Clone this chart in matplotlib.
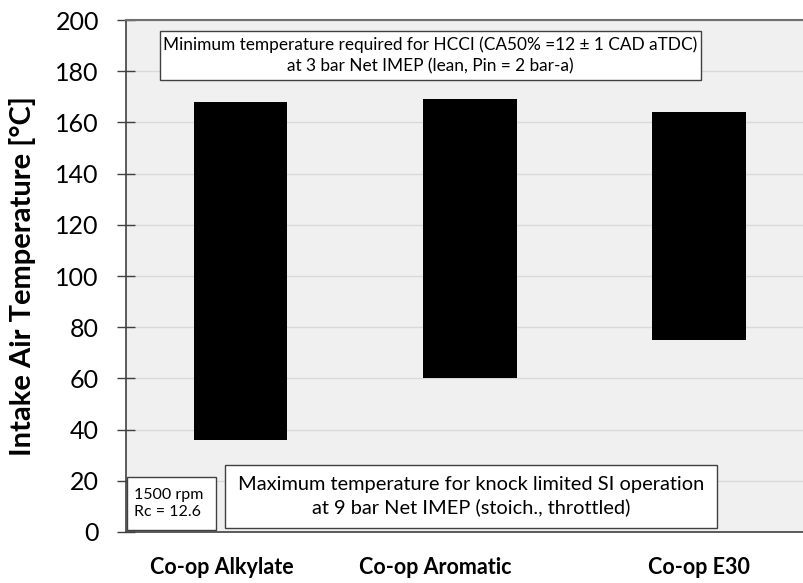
import numpy as np
import matplotlib
matplotlib.use('Agg')
import matplotlib.pyplot as plt
from matplotlib.patches import Rectangle

# Intake temperature window per fuel: lower bound = knock limited SI, upper = HCCI minimum
fuels = ['Co-op Alkylate', 'Co-op Aromatic', 'Co-op E30']
si_max_temp = [36, 60, 75]
hcci_min_temp = [168, 169, 164]
label_pos = [-0.08, 0.85, 2.0]
y_ticks = [0, 20, 40, 60, 80, 100, 120, 140, 160, 180, 200]

plt.rcParams['font.family'] = ['Lato', 'DejaVu Sans']

fig = plt.figure(figsize=(8.04, 5.83), dpi=100)
ax = fig.add_axes([0.1567, 0.0875, 0.8433, 0.878])
ax.set_facecolor('#f0f0f0')

x = np.arange(len(fuels))
lo = np.array(si_max_temp)
hi = np.array(hcci_min_temp)
ax.bar(x, hi - lo, bottom=lo, width=0.41, color='black', zorder=3)

ax.set_xlim(-0.5, 2.46)
ax.set_ylim(0, 200)
ax.set_yticks(y_ticks)
ax.tick_params(axis='y', direction='inout', length=13, width=1, color='#404040',
               labelsize=18, pad=13)
ax.grid(axis='y', color='#d9d9d9', lw=1, zorder=0)

ax.set_xticks(label_pos)
ax.set_xticklabels(fuels, fontsize=15.5, fontweight='bold')
ax.tick_params(axis='x', length=0, pad=18)

ax.set_ylabel('Intake Air Temperature [°C]', fontsize=21, fontweight='bold', labelpad=14)

for side in ['left', 'bottom']:
    ax.spines[side].set_color('#404040')
    ax.spines[side].set_linewidth(1.2)
ax.spines['top'].set_color('#707070')
ax.spines['top'].set_linewidth(1.5)
ax.spines['right'].set_visible(False)

# annotation boxes
def note(x0, y0, w, h, txt, size, ha='center', tx=None):
    ax.add_patch(Rectangle((x0, y0), w, h, transform=ax.transAxes, facecolor='white',
                           edgecolor='#404040', lw=1, zorder=4))
    if tx is None:
        tx = x0 + w / 2
    ax.text(tx, y0 + h / 2, txt, transform=ax.transAxes, ha=ha, va='center',
            multialignment='center' if ha == 'center' else 'left',
            fontsize=size, linespacing=1.35, zorder=5)

note(0.050, 0.883, 0.798, 0.0957,
     'Minimum temperature required for HCCI (CA50% =12 ± 1 CAD aTDC)\n'
     'at 3 bar Net IMEP (lean, Pin = 2 bar-a)', 12.4)
note(0.146, 0.008, 0.726, 0.123,
     'Maximum temperature for knock limited SI operation\n'
     'at 9 bar Net IMEP (stoich., throttled)', 14.4)
note(0.0015, 0.004, 0.131, 0.1035, '1500 rpm\nRc = 12.6', 11.5, ha='left', tx=0.012)

fig.savefig('out.png', dpi=100)
